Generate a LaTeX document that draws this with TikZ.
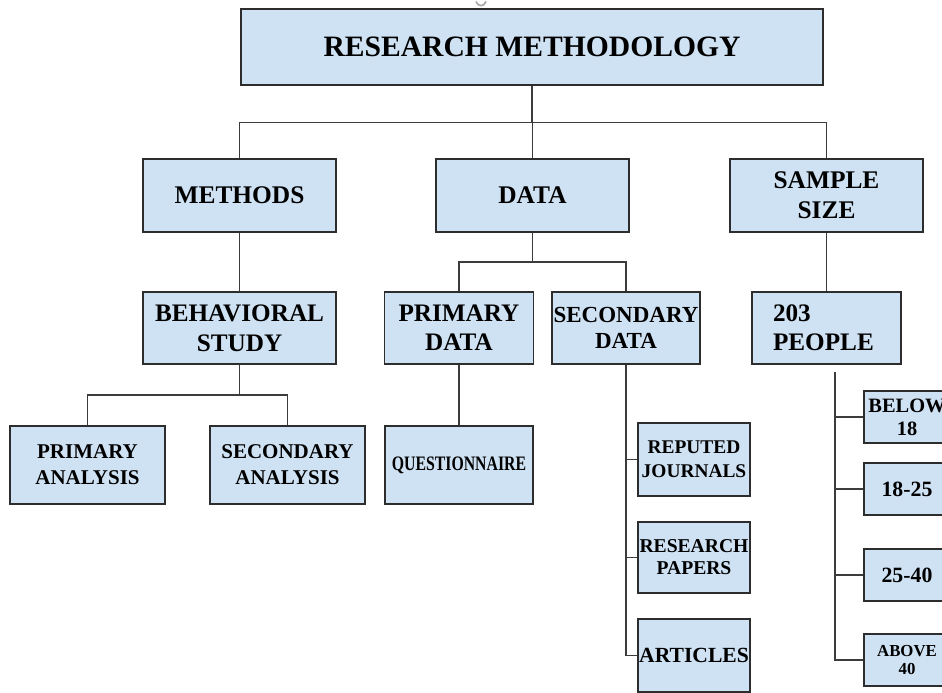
\documentclass[tikz,border=0pt]{standalone}
\usepackage{fontspec}
\setmainfont{Liberation Serif}
\definecolor{boxblue}{RGB}{207,226,243}
\definecolor{boxline}{RGB}{45,45,45}
\definecolor{connline}{RGB}{60,60,60}
\newcommand\myfs[2]{\fontsize{#1}{#2}\selectfont}
\tikzset{
  box/.style={draw=boxline, fill=boxblue, line width=1.4pt, inner sep=0pt, align=center, font=\bfseries},
  conn/.style={draw=connline, line width=1.4pt},
}
\begin{document}
\begin{tikzpicture}[x=1pt,y=-1pt]
\useasboundingbox (0,0) rectangle (942,693);
\clip (0,0) rectangle (942,693);
\fill[white] (0,0) rectangle (942,693);
% stray mark at top
\draw[gray!70, line width=1.6pt] (476,1.5) .. controls (478,7) and (484,7) .. (486,1.5);
% level 0
\node[box, minimum width=582, minimum height=76, font=\bfseries\myfs{29.6}{34}] (title) at (532,47) {RESEARCH METHODOLOGY};
% level 1
\node[box, minimum width=193, minimum height=73, font=\bfseries\myfs{25.4}{30}] (methods) at (239.5,195.5) {METHODS};
\node[box, minimum width=193, minimum height=73, font=\bfseries\myfs{25.4}{30}] (data) at (532.5,195.5) {DATA};
\node[box, minimum width=193, minimum height=73, font=\bfseries\myfs{25.4}{30}] (sample) at (826.5,195.5) {SAMPLE\\SIZE};
% level 2
\node[box, minimum width=193, minimum height=72, font=\bfseries\myfs{25.2}{30}] (behav) at (239.5,328) {BEHAVIORAL\\STUDY};
\node[box, minimum width=149, minimum height=72, font=\bfseries\myfs{25.2}{29}] (pdata) at (459,328) {PRIMARY\\DATA};
\node[box, minimum width=148, minimum height=72, font=\bfseries\myfs{23}{26}] (sdata) at (626,328) {SECONDARY\\DATA};
\node[box, minimum width=149, minimum height=72, text width=107, align=left, font=\bfseries\myfs{25.2}{29}] (people) at (826.5,328) {203\\PEOPLE};
% level 3
\node[box, minimum width=155, minimum height=78, font=\bfseries\myfs{21}{26}] (pana) at (87.5,465) {PRIMARY\\ANALYSIS};
\node[box, minimum width=155, minimum height=78, font=\bfseries\myfs{21}{26}] (sana) at (287.5,465) {SECONDARY\\ANALYSIS};
\node[box, minimum width=148, minimum height=78, font=\bfseries\myfs{15.8}{18}] (quest) at (459,465) {\scalebox{1}[1.3]{QUESTIONNAIRE}};
% secondary data children
\node[box, minimum width=112, minimum height=73, font=\bfseries\myfs{19.4}{24}] (rj) at (694,459.5) {REPUTED\\JOURNALS};
\node[box, minimum width=112, minimum height=71, font=\bfseries\myfs{19.6}{22}] (rp) at (694,557.5) {RESEARCH\\PAPERS};
\node[box, minimum width=112, minimum height=73, font=\bfseries\myfs{21.6}{25}] (art) at (694,655.5) {ARTICLES};
% age groups
\node[box, minimum width=86, minimum height=52, font=\bfseries\myfs{20.4}{23}] (b18) at (907,417) {BELOW\\18};
\node[box, minimum width=86, minimum height=52, font=\bfseries\myfs{21.8}{25}] (a1825) at (907,489) {18-25};
\node[box, minimum width=86, minimum height=52, font=\bfseries\myfs{21.8}{25}] (a2540) at (907,575) {25-40};
\node[box, minimum width=86, minimum height=52, font=\bfseries\myfs{16.8}{18}] (a40) at (907,660) {ABOVE\\40};
% connectors
\coordinate (bus1) at (0,122.7);
\coordinate (bus2) at (0,262);
\coordinate (bus3) at (0,395);
\coordinate (pstart) at (835,372);
\draw[conn] (title.south) -- (title.south |- bus1);
\draw[conn] (methods.north) |- (sample.north |- bus1) -- (sample.north);
\draw[conn] (data.north) -- (data.north |- bus1);
\draw[conn] (methods.south) -- (behav.north);
\draw[conn] (sample.south) -- (people.north);
\draw[conn] (data.south) -- (data.south |- bus2);
\draw[conn] (pdata.north) |- (sdata.north |- bus2) -- (sdata.north);
\draw[conn] (behav.south) -- (behav.south |- bus3);
\draw[conn] (pana.north) |- (sana.north |- bus3) -- (sana.north);
\draw[conn] (pdata.south) -- (quest.north);
\draw[conn] (sdata.south) |- (art.west);
\draw[conn] (rj.west) -- (rj.west -| sdata.south);
\draw[conn] (rp.west) -- (rp.west -| sdata.south);
\draw[conn] (pstart) |- (a40.west);
\draw[conn] (b18.west) -- (b18.west -| pstart);
\draw[conn] (a1825.west) -- (a1825.west -| pstart);
\draw[conn] (a2540.west) -- (a2540.west -| pstart);
\end{tikzpicture}
\end{document}
